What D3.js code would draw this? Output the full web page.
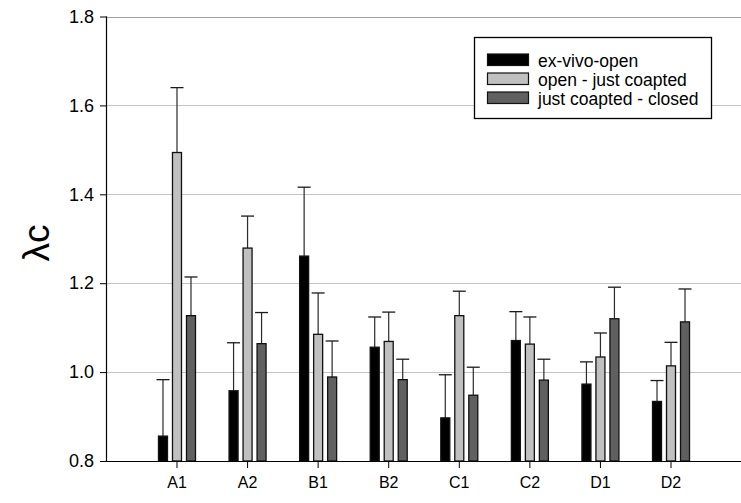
<!DOCTYPE html>
<html>
<head>
<meta charset="utf-8">
<script src="https://cdn.jsdelivr.net/npm/d3@7"></script>
<style>
  html, body { margin: 0; padding: 0; background: #fff; }
  svg { display: block; font-family: "Liberation Sans", Arial, sans-serif; }
</style>
</head>
<body>
<svg id="chart" width="741" height="503"></svg>
<script>
const categories = ["A1", "A2", "B1", "B2", "C1", "C2", "D1", "D2"];
const seriesNames = ["ex-vivo-open", "open - just coapted", "just coapted - closed"];
const exVivoOpen      = [0.856, 0.958, 1.261, 1.056, 0.897, 1.071, 0.973, 0.934];
const exVivoOpenErr   = [0.127, 0.108, 0.155, 0.068, 0.097, 0.065, 0.050, 0.047];
const openCoapted     = [1.494, 1.279, 1.085, 1.069, 1.127, 1.063, 1.034, 1.014];
const openCoaptedErr  = [0.146, 0.072, 0.093, 0.066, 0.055, 0.061, 0.054, 0.053];
const coaptedClosed   = [1.127, 1.064, 0.989, 0.983, 0.948, 0.982, 1.120, 1.113];
const coaptedClosedErr= [0.087, 0.070, 0.081, 0.046, 0.063, 0.047, 0.071, 0.074];
const yTicks = [0.8, 1.0, 1.2, 1.4, 1.6, 1.8];
const colors = ["#000000", "#c0c0c0", "#606060"];

const values = [exVivoOpen, openCoapted, coaptedClosed];
const errors = [exVivoOpenErr, openCoaptedErr, coaptedClosedErr];

const svg = d3.select("#chart");
const mLeft = 107, mRight = 741, mTop = 16.5, mBottom = 461;

const x = d3.scaleBand().domain(categories).range([141.7, 706.3]).padding(0);
const x1 = d3.scaleBand().domain(seriesNames).range([-21, 21])
  .paddingInner(5 / 14).paddingOuter(5 / 28);
const y = d3.scaleLinear().domain([0.8, 1.8]).range([mBottom, mTop]);

// gridlines
svg.append("g").selectAll("line").data(yTicks.filter(t => t > 0.8)).join("line")
  .attr("x1", mLeft).attr("x2", mRight)
  .attr("y1", d => Math.round(y(d)) + 0.5).attr("y2", d => Math.round(y(d)) + 0.5)
  .attr("stroke", d => d === 1.8 ? "#a0a0a0" : "#c4c4c4").attr("stroke-width", 1.2);

// bars
const groups = svg.append("g").selectAll("g").data(categories).join("g")
  .attr("transform", d => `translate(${x(d) + x.bandwidth() / 2},0)`);

seriesNames.forEach((s, si) => {
  const cx = x1(s) + x1.bandwidth() / 2;
  groups.append("line")
    .attr("x1", cx).attr("x2", cx)
    .attr("y1", (d, i) => y(values[si][i])).attr("y2", (d, i) => y(values[si][i] + errors[si][i]))
    .attr("stroke", "#2a2a2a").attr("stroke-width", 1.2);
  groups.append("line")
    .attr("x1", cx - 6.5).attr("x2", cx + 6.5)
    .attr("y1", (d, i) => y(values[si][i] + errors[si][i])).attr("y2", (d, i) => y(values[si][i] + errors[si][i]))
    .attr("stroke", "#1a1a1a").attr("stroke-width", 1.3);
  groups.append("rect")
    .attr("x", x1(s)).attr("width", x1.bandwidth())
    .attr("y", (d, i) => y(values[si][i]))
    .attr("height", (d, i) => mBottom - y(values[si][i]))
    .attr("fill", colors[si]).attr("stroke", "#111").attr("stroke-width", 1.3);
});

// y axis
const yAxis = d3.axisLeft(y).tickValues(yTicks).tickFormat(d3.format(".1f")).tickSize(7).tickPadding(6);
const gy = svg.append("g").attr("transform", `translate(${mLeft},0)`).call(yAxis);
gy.select(".domain").attr("stroke", "#000").attr("stroke-width", 1.2).attr("d", `M-0.5,${mTop}V${mBottom}`);
gy.selectAll(".tick line").attr("stroke", "#000");
gy.selectAll("text").attr("font-size", 18).attr("fill", "#000")
  .attr("font-family", "'Liberation Sans', Arial, sans-serif");

// x axis
const xAxis = d3.axisBottom(x).tickSize(7).tickPadding(9);
const gx = svg.append("g").attr("transform", `translate(0,${mBottom})`).call(xAxis);
gx.select(".domain").attr("stroke", "#000").attr("stroke-width", 1.2).attr("d", `M${mLeft - 1},0.5H${mRight}`);
gx.selectAll(".tick line").attr("stroke", "#000");
gx.selectAll("text").attr("font-size", 16).attr("fill", "#000")
  .attr("font-family", "'Liberation Sans', Arial, sans-serif");

// y label
svg.append("text")
  .attr("transform", "translate(49,243) rotate(-90)")
  .attr("text-anchor", "middle")
  .attr("font-size", 37)
  .attr("font-family", "'Liberation Sans', Arial, sans-serif")
  .text("λc");

// legend
const lg = svg.append("g");
lg.append("rect").attr("x", 474.5).attr("y", 37.5).attr("width", 237).attr("height", 81)
  .attr("fill", "#fff").attr("stroke", "#000").attr("stroke-width", 1.3);
seriesNames.forEach((s, i) => {
  const yy = 54 + i * 19;
  lg.append("rect").attr("x", 487.5).attr("y", yy).attr("width", 41).attr("height", 11.5)
    .attr("fill", colors[i]).attr("stroke", "#111").attr("stroke-width", 1.2);
  lg.append("text").attr("x", 538).attr("y", yy + 12.5)
    .attr("font-size", 17.5).attr("fill", "#000")
    .attr("font-family", "'Liberation Sans', Arial, sans-serif")
    .text(s);
});
</script>
</body>
</html>
